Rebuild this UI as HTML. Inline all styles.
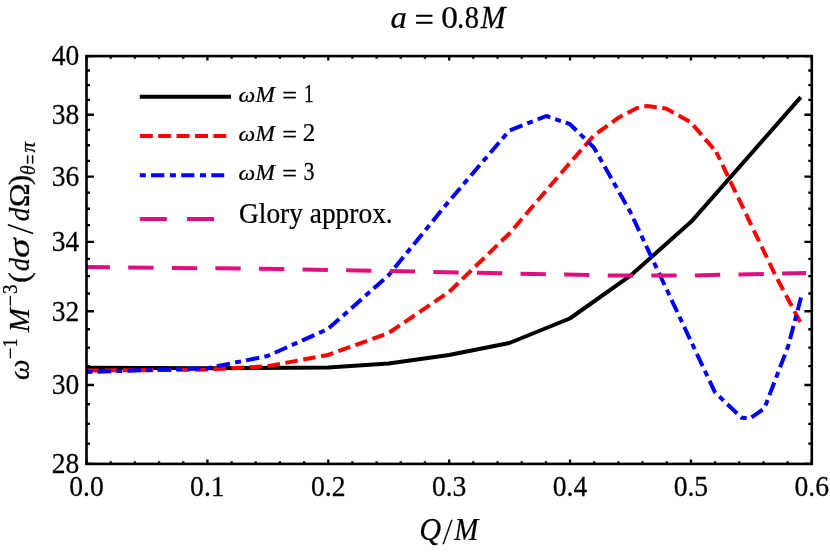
<!DOCTYPE html>
<html><head><meta charset="utf-8"><title>chart</title>
<style>
html,body{margin:0;padding:0;background:#fff;}
body{width:830px;height:554px;overflow:hidden;font-family:"Liberation Serif",serif;}
svg{display:block;will-change:transform;}
text{font-family:"Liberation Serif",serif;fill:#000;stroke:#000;stroke-width:0.25px;}
.i{font-style:italic;}
</style></head><body>
<svg width="830" height="554" viewBox="0 0 830 554">
<rect x="0" y="0" width="830" height="554" fill="#fff"/>

<g fill="none" stroke-linejoin="round">
<polyline points="86.5,367.8 207.0,368.3 328.0,367.4 388.6,363.6 449.0,355.0 509.4,343.0 569.8,318.5 631.5,274.8 691.3,221.6 800.8,97.1" stroke="#000" stroke-width="4.0"/>
<polyline points="86.5,370.6 207.0,369.6 267.0,366.3 328.0,355.0 388.6,333.0 449.0,292.0 509.4,233.5 569.8,163.0 593.9,135.5 618.0,118.0 637.0,108.0 647.0,106.0 666.0,108.5 690.5,122.0 716.3,152.0" stroke="#ff0000" stroke-width="4.0" stroke-dasharray="12.54 5.58"/>
<polyline points="716.3,152.0 775.0,274.5 801.3,324.0" stroke="#ff0000" stroke-width="4.0" stroke-dasharray="12.3 5.8" stroke-dashoffset="3.7"/>
<polyline points="86.5,372.0 207.0,368.3 267.5,356.0 328.0,329.0 388.6,275.2 449.0,201.2 509.4,130.5 546.3,116.0 570.0,124.2 593.9,147.5 630.3,212.0 715.0,392.4 741.6,417.7 750.4,418.2 764.4,408.3 788.4,345.5 801.0,297.5" stroke="#0000ff" stroke-width="4.0" stroke-dasharray="6 5.15 13.5 5.2"/>
<polyline points="86.5,267.0 280.0,269.0 490.0,273.0 610.0,275.5 690.0,275.5 806.0,273.0" stroke="#e10f7d" stroke-width="4.0" stroke-dasharray="25.3 18.3" stroke-dashoffset="1.9"/>
</g>
<g stroke="#000" stroke-width="2.6" fill="none">
<rect x="86.5" y="56.1" width="725.3" height="407.8"/>
<path d="M86.50 463.90v-4.50M86.50 56.10v4.50M110.68 463.90v-2.70M110.68 56.10v2.70M134.85 463.90v-2.70M134.85 56.10v2.70M159.03 463.90v-2.70M159.03 56.10v2.70M183.21 463.90v-2.70M183.21 56.10v2.70M207.38 463.90v-4.50M207.38 56.10v4.50M231.56 463.90v-2.70M231.56 56.10v2.70M255.74 463.90v-2.70M255.74 56.10v2.70M279.91 463.90v-2.70M279.91 56.10v2.70M304.09 463.90v-2.70M304.09 56.10v2.70M328.27 463.90v-4.50M328.27 56.10v4.50M352.44 463.90v-2.70M352.44 56.10v2.70M376.62 463.90v-2.70M376.62 56.10v2.70M400.80 463.90v-2.70M400.80 56.10v2.70M424.97 463.90v-2.70M424.97 56.10v2.70M449.15 463.90v-4.50M449.15 56.10v4.50M473.33 463.90v-2.70M473.33 56.10v2.70M497.50 463.90v-2.70M497.50 56.10v2.70M521.68 463.90v-2.70M521.68 56.10v2.70M545.86 463.90v-2.70M545.86 56.10v2.70M570.03 463.90v-4.50M570.03 56.10v4.50M594.21 463.90v-2.70M594.21 56.10v2.70M618.39 463.90v-2.70M618.39 56.10v2.70M642.56 463.90v-2.70M642.56 56.10v2.70M666.74 463.90v-2.70M666.74 56.10v2.70M690.92 463.90v-4.50M690.92 56.10v4.50M715.09 463.90v-2.70M715.09 56.10v2.70M739.27 463.90v-2.70M739.27 56.10v2.70M763.45 463.90v-2.70M763.45 56.10v2.70M787.62 463.90v-2.70M787.62 56.10v2.70M811.80 463.90v-4.50M811.80 56.10v4.50M86.50 463.90h7.40M811.80 463.90h-7.40M86.50 443.66h3.50M811.80 443.66h-3.50M86.50 423.78h3.50M811.80 423.78h-3.50M86.50 404.23h3.50M811.80 404.23h-3.50M86.50 385.02h7.40M811.80 385.02h-7.40M86.50 366.12h3.50M811.80 366.12h-3.50M86.50 347.53h3.50M811.80 347.53h-3.50M86.50 329.23h3.50M811.80 329.23h-3.50M86.50 311.23h7.40M811.80 311.23h-7.40M86.50 293.50h3.50M811.80 293.50h-3.50M86.50 276.05h3.50M811.80 276.05h-3.50M86.50 258.85h3.50M811.80 258.85h-3.50M86.50 241.91h7.40M811.80 241.91h-7.40M86.50 225.22h3.50M811.80 225.22h-3.50M86.50 208.77h3.50M811.80 208.77h-3.50M86.50 192.55h3.50M811.80 192.55h-3.50M86.50 176.56h7.40M811.80 176.56h-7.40M86.50 160.79h3.50M811.80 160.79h-3.50M86.50 145.24h3.50M811.80 145.24h-3.50M86.50 129.89h3.50M811.80 129.89h-3.50M86.50 114.75h7.40M811.80 114.75h-7.40M86.50 99.80h3.50M811.80 99.80h-3.50M86.50 85.05h3.50M811.80 85.05h-3.50M86.50 70.48h3.50M811.80 70.48h-3.50M86.50 56.10h7.40M811.80 56.10h-7.40" stroke-width="2.3"/>
</g>
<text transform="translate(86.50,496.00) scale(0.950,1)" font-size="29.10" text-anchor="middle">0.0</text>
<text transform="translate(207.38,496.00) scale(0.950,1)" font-size="29.10" text-anchor="middle">0.1</text>
<text transform="translate(328.27,496.00) scale(0.950,1)" font-size="29.10" text-anchor="middle">0.2</text>
<text transform="translate(449.15,496.00) scale(0.950,1)" font-size="29.10" text-anchor="middle">0.3</text>
<text transform="translate(570.03,496.00) scale(0.950,1)" font-size="29.10" text-anchor="middle">0.4</text>
<text transform="translate(690.92,496.00) scale(0.950,1)" font-size="29.10" text-anchor="middle">0.5</text>
<text transform="translate(811.80,496.00) scale(0.950,1)" font-size="29.10" text-anchor="middle">0.6</text>
<text transform="translate(79.30,473.20) scale(0.945,1)" font-size="29.10" text-anchor="end">28</text>
<text transform="translate(79.30,394.32) scale(0.945,1)" font-size="29.10" text-anchor="end">30</text>
<text transform="translate(79.30,320.53) scale(0.945,1)" font-size="29.10" text-anchor="end">32</text>
<text transform="translate(79.30,251.21) scale(0.945,1)" font-size="29.10" text-anchor="end">34</text>
<text transform="translate(79.30,185.86) scale(0.945,1)" font-size="29.10" text-anchor="end">36</text>
<text transform="translate(79.30,124.05) scale(0.945,1)" font-size="29.10" text-anchor="end">38</text>
<text transform="translate(79.30,65.40) scale(0.945,1)" font-size="29.10" text-anchor="end">40</text>
<text transform="translate(390.62,27.70) scale(1.045,1.000)" font-size="31.20" class="i">a</text>
<text transform="translate(414.38,30.51) scale(1.103,1.051)" font-size="31.20">=</text>
<text transform="translate(441.35,27.70) scale(1.071,1.000)" font-size="31.20">0</text>
<text transform="translate(457.10,27.70) scale(0.935,1.000)" font-size="31.20">.</text>
<text transform="translate(464.83,27.70) scale(0.913,1.000)" font-size="31.20">8</text>
<text transform="translate(480.77,27.70) scale(0.973,1.000)" font-size="30.50" class="i">M</text>
<text transform="translate(419.14,539.80) scale(0.983,1.000)" font-size="30.80" class="i">Q</text>
<text transform="translate(443.81,544.03) scale(0.800,1.187)" font-size="30.80" class="i">/</text>
<text transform="translate(454.26,539.80) scale(0.938,1.000)" font-size="30.80" class="i">M</text>
<text transform="translate(29.10,380.04) rotate(-90) scale(0.968,1.000)" font-size="30.00" class="i">ω</text>
<text transform="translate(16.50,359.13) rotate(-90) scale(1.007,1.000)" font-size="20.50">−</text>
<text transform="translate(16.50,347.19) rotate(-90) scale(0.800,1.000)" font-size="22.00">1</text>
<text transform="translate(29.10,332.34) rotate(-90) scale(0.966,1.000)" font-size="30.00" class="i">M</text>
<text transform="translate(16.50,306.62) rotate(-90) scale(0.997,1.000)" font-size="20.50">−</text>
<text transform="translate(16.50,293.90) rotate(-90) scale(0.860,1.000)" font-size="22.00">3</text>
<text transform="translate(29.10,282.88) rotate(-90) scale(1.098,1.000)" font-size="30.00">(</text>
<text transform="translate(29.10,271.07) rotate(-90) scale(0.861,1.000)" font-size="30.00" class="i">d</text>
<text transform="translate(29.10,257.99) rotate(-90) scale(1.320,1.000)" font-size="30.00" class="i">σ</text>
<text transform="translate(32.73,233.07) rotate(-90) scale(0.839,1.249)" font-size="30.00" class="i">/</text>
<text transform="translate(29.10,221.32) rotate(-90) scale(0.910,1.000)" font-size="30.00" class="i">d</text>
<text transform="translate(29.10,207.30) rotate(-90) scale(1.078,1.000)" font-size="30.00">Ω</text>
<text transform="translate(29.10,185.22) rotate(-90) scale(1.049,1.000)" font-size="30.00">)</text>
<text transform="translate(35.20,174.97) rotate(-90) scale(0.946,1.000)" font-size="20.50" class="i">θ</text>
<text transform="translate(37.53,164.16) rotate(-90) scale(0.839,1.112)" font-size="20.50">=</text>
<text transform="translate(35.20,152.51) rotate(-90) scale(1.027,1.000)" font-size="20.50" class="i">π</text>
<g fill="none">
<path d="M139.8 96.8H231" stroke="#000" stroke-width="4"/>
<path d="M139.8 136.05H226.8" stroke="#f00" stroke-width="4" stroke-dasharray="13 5.4"/>
<path d="M139.8 175.25H224.2" stroke="#00f" stroke-width="4" stroke-dasharray="6 5.3 13.2 5.6"/>
<path d="M139.8 219.05H214.2" stroke="#e10f7d" stroke-width="4.0" stroke-dasharray="27.1 20.1"/>
</g>
<text transform="translate(238.53,102.00) scale(1.116,1.000)" font-size="21.20" class="i">ω</text>
<text transform="translate(255.59,102.00) scale(0.994,1.000)" font-size="23.40" class="i">M</text>
<text transform="translate(282.29,104.32) scale(1.084,1.050)" font-size="24.20">=</text>
<text transform="translate(303.89,102.00) scale(0.800,1.000)" font-size="24.20">1</text>
<text transform="translate(238.53,140.70) scale(1.116,1.000)" font-size="21.20" class="i">ω</text>
<text transform="translate(255.59,140.70) scale(0.994,1.000)" font-size="23.40" class="i">M</text>
<text transform="translate(282.29,143.02) scale(1.084,1.050)" font-size="24.20">=</text>
<text transform="translate(302.76,140.70) scale(1.043,1.000)" font-size="24.20">2</text>
<text transform="translate(238.53,179.80) scale(1.116,1.000)" font-size="21.20" class="i">ω</text>
<text transform="translate(255.59,179.80) scale(0.994,1.000)" font-size="23.40" class="i">M</text>
<text transform="translate(282.29,182.12) scale(1.084,1.050)" font-size="24.20">=</text>
<text transform="translate(303.45,179.80) scale(0.912,1.000)" font-size="24.20">3</text>
<text transform="translate(239.00,223.20) scale(0.955,1)" font-size="28.70" text-anchor="start">Glory approx.</text>
</svg></body></html>
